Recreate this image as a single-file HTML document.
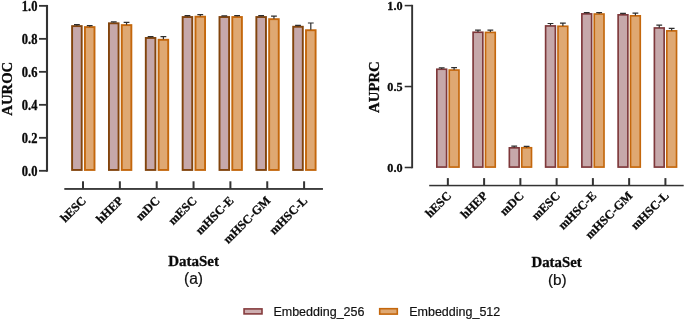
<!DOCTYPE html>
<html lang="en">
<head>
<meta charset="utf-8">
<title>Embedding size comparison</title>
<style>
html,body{margin:0;padding:0;background:#fff;}
svg{display:block;}
.s{font-family:"Liberation Serif",serif;font-weight:bold;fill:#0a0a0a;stroke:#0a0a0a;stroke-width:0.3px;}
.a{font-family:"Liberation Sans",sans-serif;fill:#111;stroke:#111;stroke-width:0.2px;}
</style>
</head>
<body>
<svg width="685" height="320" viewBox="0 0 685 320">
<rect width="685" height="320" fill="#ffffff"/>
<g>
<rect x="45.95" y="4.95" width="2.1" height="166.75" fill="#333333"/>
<rect x="39" y="4.95" width="8" height="1.8" fill="#333333"/>
<text transform="translate(37.4 10.6) scale(1 1.11)" text-anchor="end" class="s" font-size="12.5">1.0</text>
<rect x="39" y="37.94" width="8" height="1.8" fill="#333333"/>
<text transform="translate(37.4 43.59) scale(1 1.11)" text-anchor="end" class="s" font-size="12.5">0.8</text>
<rect x="39" y="70.93" width="8" height="1.8" fill="#333333"/>
<text transform="translate(37.4 76.58) scale(1 1.11)" text-anchor="end" class="s" font-size="12.5">0.6</text>
<rect x="39" y="103.92" width="8" height="1.8" fill="#333333"/>
<text transform="translate(37.4 109.57) scale(1 1.11)" text-anchor="end" class="s" font-size="12.5">0.4</text>
<rect x="39" y="136.91" width="8" height="1.8" fill="#333333"/>
<text transform="translate(37.4 142.56) scale(1 1.11)" text-anchor="end" class="s" font-size="12.5">0.2</text>
<rect x="39" y="169.9" width="8" height="1.8" fill="#333333"/>
<text transform="translate(37.4 175.55) scale(1 1.11)" text-anchor="end" class="s" font-size="12.5">0.0</text>
<text transform="translate(11.6 88.75) rotate(-90)" text-anchor="middle" class="s" font-size="14.7">AUROC</text>
<rect x="64.3" y="188.05" width="258.65" height="1.8" fill="#333333"/>
<rect x="82" y="181.3" width="2" height="7.65" fill="#333333"/>
<text transform="translate(86.9 201.35) rotate(-45)" text-anchor="end" class="s" font-size="12.3">hESC</text>
<rect x="72.1" y="26.1" width="9.6" height="143.85" fill="#C6A8AA" stroke="#82440D" stroke-width="1.9"/>
<path d="M76.9 25.65V24.65M74 24.65H79.8" stroke="#2E2E2E" stroke-width="1.2" fill="none"/>
<rect x="84.9" y="27.09" width="9.6" height="142.86" fill="#DFA872" stroke="#C4670C" stroke-width="1.9"/>
<path d="M89.7 26.64V25.64M86.8 25.64H92.6" stroke="#2E2E2E" stroke-width="1.2" fill="none"/>
<rect x="118.85" y="181.3" width="2" height="7.65" fill="#333333"/>
<text transform="translate(123.75 201.35) rotate(-45)" text-anchor="end" class="s" font-size="12.3">hHEP</text>
<rect x="108.95" y="23.29" width="9.6" height="146.66" fill="#C6A8AA" stroke="#82440D" stroke-width="1.9"/>
<path d="M113.75 22.84V21.85M110.85 21.85H116.65" stroke="#2E2E2E" stroke-width="1.2" fill="none"/>
<rect x="121.75" y="25.11" width="9.6" height="144.84" fill="#DFA872" stroke="#C4670C" stroke-width="1.9"/>
<path d="M126.55 24.66V22.34M123.65 22.34H129.45" stroke="#2E2E2E" stroke-width="1.2" fill="none"/>
<rect x="155.7" y="181.3" width="2" height="7.65" fill="#333333"/>
<text transform="translate(160.6 201.35) rotate(-45)" text-anchor="end" class="s" font-size="12.3">mDC</text>
<rect x="145.8" y="37.98" width="9.6" height="131.97" fill="#C6A8AA" stroke="#82440D" stroke-width="1.9"/>
<path d="M150.6 37.53V36.53M147.7 36.53H153.5" stroke="#2E2E2E" stroke-width="1.2" fill="none"/>
<rect x="158.6" y="39.79" width="9.6" height="130.16" fill="#DFA872" stroke="#C4670C" stroke-width="1.9"/>
<path d="M163.4 39.34V36.53M160.5 36.53H166.3" stroke="#2E2E2E" stroke-width="1.2" fill="none"/>
<rect x="192.55" y="181.3" width="2" height="7.65" fill="#333333"/>
<text transform="translate(197.45 201.35) rotate(-45)" text-anchor="end" class="s" font-size="12.3">mESC</text>
<rect x="182.65" y="17.03" width="9.6" height="152.92" fill="#C6A8AA" stroke="#82440D" stroke-width="1.9"/>
<path d="M187.45 16.58V15.58M184.55 15.58H190.35" stroke="#2E2E2E" stroke-width="1.2" fill="none"/>
<rect x="195.45" y="16.7" width="9.6" height="153.25" fill="#DFA872" stroke="#C4670C" stroke-width="1.9"/>
<path d="M200.25 16.25V14.59M197.35 14.59H203.15" stroke="#2E2E2E" stroke-width="1.2" fill="none"/>
<rect x="229.4" y="181.3" width="2" height="7.65" fill="#333333"/>
<text transform="translate(234.3 201.35) rotate(-45)" text-anchor="end" class="s" font-size="12.3">mHSC-E</text>
<rect x="219.5" y="17.03" width="9.6" height="152.92" fill="#C6A8AA" stroke="#82440D" stroke-width="1.9"/>
<path d="M224.3 16.58V15.91M221.4 15.91H227.2" stroke="#2E2E2E" stroke-width="1.2" fill="none"/>
<rect x="232.3" y="17.03" width="9.6" height="152.92" fill="#DFA872" stroke="#C4670C" stroke-width="1.9"/>
<path d="M237.1 16.58V15.58M234.2 15.58H240" stroke="#2E2E2E" stroke-width="1.2" fill="none"/>
<rect x="266.25" y="181.3" width="2" height="7.65" fill="#333333"/>
<text transform="translate(271.15 201.35) rotate(-45)" text-anchor="end" class="s" font-size="12.3">mHSC-GM</text>
<rect x="256.35" y="17.03" width="9.6" height="152.92" fill="#C6A8AA" stroke="#82440D" stroke-width="1.9"/>
<path d="M261.15 16.58V15.58M258.25 15.58H264.05" stroke="#2E2E2E" stroke-width="1.2" fill="none"/>
<rect x="269.15" y="19.17" width="9.6" height="150.78" fill="#DFA872" stroke="#C4670C" stroke-width="1.9"/>
<path d="M273.95 18.72V16.08M271.05 16.08H276.85" stroke="#2E2E2E" stroke-width="1.2" fill="none"/>
<rect x="303.1" y="181.3" width="2" height="7.65" fill="#333333"/>
<text transform="translate(308 201.35) rotate(-45)" text-anchor="end" class="s" font-size="12.3">mHSC-L</text>
<rect x="293.2" y="26.76" width="9.6" height="143.19" fill="#C6A8AA" stroke="#82440D" stroke-width="1.9"/>
<path d="M298 26.31V25.31M295.1 25.31H300.9" stroke="#2E2E2E" stroke-width="1.2" fill="none"/>
<rect x="306" y="30.22" width="9.6" height="139.73" fill="#DFA872" stroke="#C4670C" stroke-width="1.9"/>
<path d="M310.8 29.77V23M307.9 23H313.7" stroke="#2E2E2E" stroke-width="1.2" fill="none"/>
<text x="193.6" y="265.5" text-anchor="middle" class="s" font-size="15">DataSet</text>
<text x="193.5" y="283.5" text-anchor="middle" class="a" font-size="15.6">(a)</text>
</g>
<g>
<rect x="411.2" y="4.82" width="1.9" height="163.45" fill="#333333"/>
<rect x="404.7" y="4.82" width="7.45" height="1.55" fill="#333333"/>
<text x="402.6" y="9.7" text-anchor="end" class="s" font-size="12.2">1.0</text>
<rect x="404.7" y="85.77" width="7.45" height="1.55" fill="#333333"/>
<text x="402.6" y="90.65" text-anchor="end" class="s" font-size="12.2">0.5</text>
<rect x="404.7" y="166.72" width="7.45" height="1.55" fill="#333333"/>
<text x="402.6" y="171.6" text-anchor="end" class="s" font-size="12.2">0.0</text>
<text transform="translate(379.3 87.1) rotate(-90)" text-anchor="middle" class="s" font-size="14.8">AUPRC</text>
<rect x="429.2" y="184.8" width="254.5" height="1.5" fill="#333333"/>
<rect x="446.85" y="178.1" width="2" height="7.45" fill="#333333"/>
<text transform="translate(451.95 196.55) rotate(-45)" text-anchor="end" class="s" font-size="12.3">hESC</text>
<rect x="436.83" y="69.24" width="9.75" height="97.83" fill="#C6A8AA" stroke="#7E383A" stroke-width="1.65"/>
<path d="M441.7 68.92V67.93M438.8 67.93H444.6" stroke="#2E2E2E" stroke-width="1.2" fill="none"/>
<rect x="449.23" y="70.05" width="9.75" height="97.02" fill="#DFA872" stroke="#C4670C" stroke-width="1.65"/>
<path d="M454.1 69.73V67.61M451.2 67.61H457" stroke="#2E2E2E" stroke-width="1.2" fill="none"/>
<rect x="483.11" y="178.1" width="2" height="7.45" fill="#333333"/>
<text transform="translate(488.21 196.55) rotate(-45)" text-anchor="end" class="s" font-size="12.3">hHEP</text>
<rect x="473.09" y="32.25" width="9.75" height="134.83" fill="#C6A8AA" stroke="#7E383A" stroke-width="1.65"/>
<path d="M477.96 31.92V30.13M475.06 30.13H480.86" stroke="#2E2E2E" stroke-width="1.2" fill="none"/>
<rect x="485.49" y="32.41" width="9.75" height="134.67" fill="#DFA872" stroke="#C4670C" stroke-width="1.65"/>
<path d="M490.36 32.08V30.13M487.46 30.13H493.26" stroke="#2E2E2E" stroke-width="1.2" fill="none"/>
<rect x="519.37" y="178.1" width="2" height="7.45" fill="#333333"/>
<text transform="translate(524.47 196.55) rotate(-45)" text-anchor="end" class="s" font-size="12.3">mDC</text>
<rect x="509.35" y="147.84" width="9.75" height="19.23" fill="#C6A8AA" stroke="#7E383A" stroke-width="1.65"/>
<path d="M514.22 147.52V146.21M511.32 146.21H517.12" stroke="#2E2E2E" stroke-width="1.2" fill="none"/>
<rect x="521.75" y="147.76" width="9.75" height="19.31" fill="#DFA872" stroke="#C4670C" stroke-width="1.65"/>
<path d="M526.62 147.44V146.45M523.72 146.45H529.52" stroke="#2E2E2E" stroke-width="1.2" fill="none"/>
<rect x="555.63" y="178.1" width="2" height="7.45" fill="#333333"/>
<text transform="translate(560.73 196.55) rotate(-45)" text-anchor="end" class="s" font-size="12.3">mESC</text>
<rect x="545.61" y="25.93" width="9.75" height="141.14" fill="#C6A8AA" stroke="#7E383A" stroke-width="1.65"/>
<path d="M550.48 25.61V23.49M547.58 23.49H553.38" stroke="#2E2E2E" stroke-width="1.2" fill="none"/>
<rect x="558" y="26.26" width="9.75" height="140.82" fill="#DFA872" stroke="#C4670C" stroke-width="1.65"/>
<path d="M562.88 25.93V23.17M559.98 23.17H565.78" stroke="#2E2E2E" stroke-width="1.2" fill="none"/>
<rect x="591.89" y="178.1" width="2" height="7.45" fill="#333333"/>
<text transform="translate(596.99 196.55) rotate(-45)" text-anchor="end" class="s" font-size="12.3">mHSC-E</text>
<rect x="581.87" y="13.87" width="9.75" height="153.2" fill="#C6A8AA" stroke="#7E383A" stroke-width="1.65"/>
<path d="M586.74 13.55V12.56M583.84 12.56H589.64" stroke="#2E2E2E" stroke-width="1.2" fill="none"/>
<rect x="594.26" y="14.03" width="9.75" height="153.04" fill="#DFA872" stroke="#C4670C" stroke-width="1.65"/>
<path d="M599.14 13.71V12.72M596.24 12.72H602.04" stroke="#2E2E2E" stroke-width="1.2" fill="none"/>
<rect x="628.15" y="178.1" width="2" height="7.45" fill="#333333"/>
<text transform="translate(633.25 196.55) rotate(-45)" text-anchor="end" class="s" font-size="12.3">mHSC-GM</text>
<rect x="618.12" y="14.84" width="9.75" height="152.23" fill="#C6A8AA" stroke="#7E383A" stroke-width="1.65"/>
<path d="M623 14.52V13.37M620.1 13.37H625.9" stroke="#2E2E2E" stroke-width="1.2" fill="none"/>
<rect x="630.52" y="15.82" width="9.75" height="151.26" fill="#DFA872" stroke="#C4670C" stroke-width="1.65"/>
<path d="M635.4 15.49V13.05M632.5 13.05H638.3" stroke="#2E2E2E" stroke-width="1.2" fill="none"/>
<rect x="664.41" y="178.1" width="2" height="7.45" fill="#333333"/>
<text transform="translate(669.51 196.55) rotate(-45)" text-anchor="end" class="s" font-size="12.3">mHSC-L</text>
<rect x="654.39" y="27.96" width="9.75" height="139.12" fill="#C6A8AA" stroke="#7E383A" stroke-width="1.65"/>
<path d="M659.26 27.63V25.03M656.36 25.03H662.16" stroke="#2E2E2E" stroke-width="1.2" fill="none"/>
<rect x="666.79" y="30.87" width="9.75" height="136.2" fill="#DFA872" stroke="#C4670C" stroke-width="1.65"/>
<path d="M671.66 30.55V28.43M668.76 28.43H674.56" stroke="#2E2E2E" stroke-width="1.2" fill="none"/>
<text x="556.6" y="267.1" text-anchor="middle" class="s" font-size="14.8">DataSet</text>
<text x="557.3" y="284.7" text-anchor="middle" class="a" font-size="15.4">(b)</text>
</g>
<g>
<rect x="244.05" y="308.9" width="17.95" height="5" fill="#CDAEB0" stroke="#853B3D" stroke-width="1.6"/>
<text x="273.4" y="315.5" class="a" font-size="12.5">Embedding_256</text>
<rect x="379.7" y="308.7" width="17.6" height="5.4" fill="#DFA872" stroke="#C4670C" stroke-width="1.6"/>
<text x="409.2" y="315.5" class="a" font-size="12.5">Embedding_512</text>
</g>
</svg>
</body>
</html>
